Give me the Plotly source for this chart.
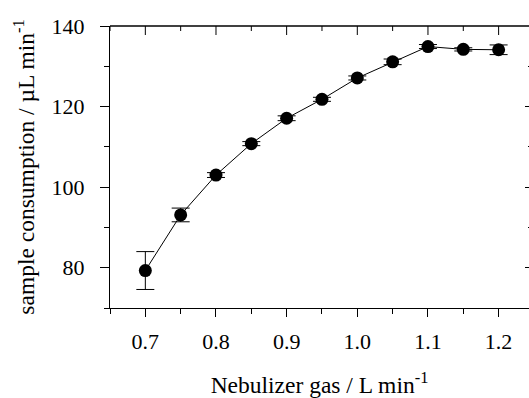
import plotly.graph_objects as go

# Nebulizer gas flow (L/min) vs. sample consumption (µL/min)
gas_flow = [0.70, 0.75, 0.80, 0.85, 0.90, 0.95, 1.00, 1.05, 1.10, 1.15, 1.20]
consumption = [79.3, 93.1, 103.0, 110.8, 117.1, 121.8, 127.1, 131.1, 134.9, 134.2, 134.1]
consumption_err = [4.7, 1.7, 0.6, 0.5, 0.6, 0.5, 0.5, 0.7, 0.5, 0.4, 1.2]

x_ticks = [0.7, 0.8, 0.9, 1.0, 1.1, 1.2]
x_ticktext = ["0.7", "0.8", "0.9", "1.0", "1.1", "1.2"]
x_minor_ticks = [0.65, 0.75, 0.85, 0.95, 1.05, 1.15]
y_ticks = [80, 100, 120, 140]

FONT = "Liberation Serif"
TICKFONT = dict(family=FONT, size=22, color="black")
x_range = [0.65, 1.243]
y_range = [70, 140]

W, H = 529, 398
M = dict(l=110, r=0, t=26, b=90)
plot_h = H - M["t"] - M["b"]

fig = go.Figure()
fig.add_trace(go.Scatter(
    x=gas_flow, y=consumption,
    mode="lines+markers",
    line=dict(color="black", width=1),
    marker=dict(color="black", size=13),
    error_y=dict(type="data", array=consumption_err, visible=True,
                 color="black", thickness=1, width=9),
    showlegend=False,
))
# invisible point that carries the right-hand tick axis
fig.add_trace(go.Scatter(x=[0.9], y=[100], xaxis="x", yaxis="y2",
                         mode="markers", marker=dict(opacity=0),
                         showlegend=False, hoverinfo="skip"))

# top frame line with inward-pointing ticks
fig.add_shape(type="line", xref="paper", yref="paper",
              x0=0, x1=1, y0=1, y1=1, layer="above",
              line=dict(color="black", width=1.5))
for v in x_ticks:
    fig.add_shape(type="line", xref="x", yref="paper", layer="above",
                  x0=v, x1=v, y0=1, y1=1 - 9 / plot_h,
                  line=dict(color="black", width=1))
for v in x_minor_ticks:
    fig.add_shape(type="line", xref="x", yref="paper", layer="above",
                  x0=v, x1=v, y0=1, y1=1 - 5 / plot_h,
                  line=dict(color="black", width=1))

fig.update_layout(
    width=W, height=H,
    margin=M,
    paper_bgcolor="white", plot_bgcolor="white",
    font=dict(family=FONT, color="black", size=22),
    xaxis=dict(
        range=x_range, showgrid=False, zeroline=False,
        showline=True, linecolor="black", linewidth=1,
        ticks="outside", ticklen=8, tickwidth=1, tickcolor="black",
        tickvals=x_ticks, ticktext=x_ticktext, tickfont=TICKFONT,
        minor=dict(dtick=0.05, tick0=0.65, ticks="outside", ticklen=5,
                   tickwidth=1, tickcolor="black", showgrid=False),
        ticklabelstandoff=6,
        title=dict(text="Nebulizer gas / L min<sup>-1</sup>",
                   font=dict(family=FONT, size=23.5), standoff=24),
    ),
    yaxis=dict(
        range=y_range, showgrid=False, zeroline=False,
        showline=True, linecolor="black", linewidth=1,
        ticks="outside", ticklen=9, tickwidth=1, tickcolor="black",
        tickvals=y_ticks, tickfont=TICKFONT,
        minor=dict(dtick=10, tick0=70, ticks="outside", ticklen=5,
                   tickwidth=1, tickcolor="black", showgrid=False),
        ticklabelstandoff=11,
        title=dict(text="sample consumption / µL min<sup>-1</sup>",
                   font=dict(family=FONT, size=23.5), standoff=10),
    ),
    yaxis2=dict(
        overlaying="y", side="right", anchor="x", range=y_range,
        showgrid=False, zeroline=False, showline=False,
        ticks="inside", ticklen=4, tickwidth=1, tickcolor="black",
        tickvals=y_ticks, showticklabels=False,
        minor=dict(dtick=10, tick0=70, ticks="inside", ticklen=1,
                   tickwidth=1, tickcolor="black", showgrid=False),
    ),
)

fig.write_html("out.html", config={"displayModeBar": False})
